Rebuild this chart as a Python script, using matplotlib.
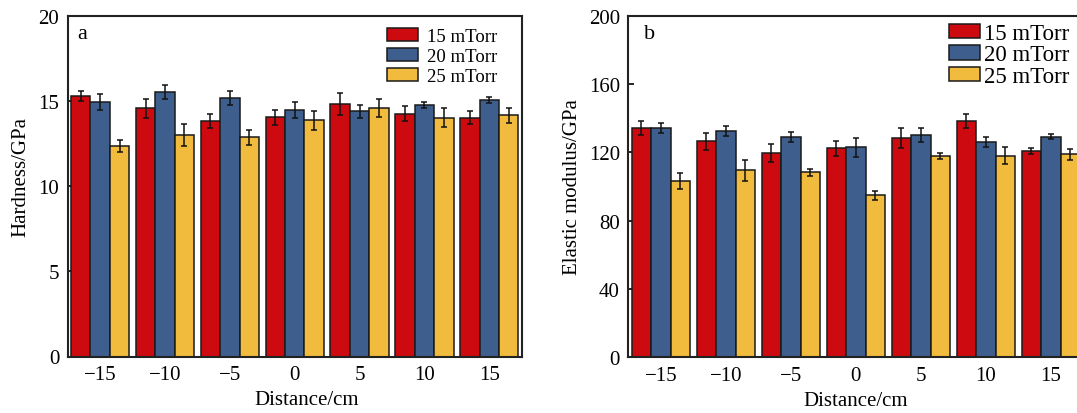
import matplotlib
matplotlib.use("Agg")
import matplotlib.pyplot as plt
import numpy as np

# ---- data ----
distance = [-15, -10, -5, 0, 5, 10, 15]
series_labels = ["15 mTorr", "20 mTorr", "25 mTorr"]

hard_15 = [15.3, 14.56, 13.83, 14.03, 14.81, 14.26, 14.01]
hard_15_err = [0.30, 0.55, 0.43, 0.43, 0.66, 0.42, 0.38]
hard_20 = [14.93, 15.53, 15.18, 14.46, 14.38, 14.77, 15.06]
hard_20_err = [0.47, 0.43, 0.41, 0.46, 0.36, 0.18, 0.16]
hard_25 = [12.36, 13.01, 12.86, 13.85, 14.59, 14.01, 14.16]
hard_25_err = [0.37, 0.65, 0.43, 0.57, 0.53, 0.55, 0.43]

mod_15 = [134.2, 126.4, 119.7, 122.3, 128.4, 138.5, 120.9]
mod_15_err = [4.1, 4.9, 5.4, 4.4, 5.6, 4.1, 1.8]
mod_20 = [134.2, 132.3, 128.9, 122.9, 130.3, 126.0, 129.1]
mod_20_err = [3.0, 2.9, 2.9, 5.7, 4.2, 3.1, 1.4]
mod_25 = [103.2, 109.4, 108.2, 94.9, 117.8, 118.0, 119.0]
mod_25_err = [4.8, 6.0, 2.2, 2.6, 1.9, 4.9, 3.2]

colors = ["#CC0A10", "#3E5F8E", "#F1BC3D"]

plt.rcParams['font.family'] = ['Liberation Serif', 'DejaVu Serif']

W, H = 1077, 414
fig = plt.figure(figsize=(W / 100, H / 100), dpi=100)

def px_axes(x0, x1, ytop, ybot):
    return fig.add_axes([x0 / W, (H - ybot) / H, (x1 - x0) / W, (ybot - ytop) / H])

axL = px_axes(67.7, 521.7, 16.7, 357.5)
axR = px_axes(628.3, 1083.3, 16.7, 358.3)

bw = 1.5
offsets = [-bw, 0, bw]
x = np.array(distance, dtype=float)

def draw(ax, vals, errs):
    handles = []
    for v, e, c, off, lab in zip(vals, errs, colors, offsets, series_labels):
        b = ax.bar(x + off, v, width=bw, color=c, edgecolor="#1a1a1a", linewidth=1.1,
                   label=lab, zorder=2)
        ax.errorbar(x + off, v, yerr=e, fmt="none", ecolor="#111111", elinewidth=1.1,
                    capsize=2.4, capthick=1.1, zorder=3)
        handles.append(b)
    ax.set_xlim(-17.5, 17.5)
    ax.set_xticks(distance)
    ax.set_xticklabels([("\u2212%d" % -d) if d < 0 else str(d) for d in distance])
    ax.tick_params(axis="x", length=0, pad=6, labelsize=15)
    ax.tick_params(axis="y", direction="in", length=4, width=1.2, labelsize=15, pad=6)
    for s in ax.spines.values():
        s.set_linewidth(1.5)
        s.set_color("#222222")
    return handles

hL = draw(axL, [hard_15, hard_20, hard_25], [hard_15_err, hard_20_err, hard_25_err])
axL.set_ylim(0, 20)
axL.set_yticks([0, 5, 10, 15, 20])
axL.set_ylabel("Hardness/GPa", fontsize=15)
axL.yaxis.set_label_coords(-0.083, 0.53)
axL.set_xlabel("Distance/cm", fontsize=15)
axL.xaxis.set_label_coords(0.527, -0.098)
axL.text(0.022, 0.975, "a", transform=axL.transAxes, fontsize=16, va="top", ha="left")
axL.legend(handles=hL, loc="upper left", bbox_to_anchor=(387 / W, (H - 28.5) / H),
           bbox_transform=fig.transFigure, frameon=False, fontsize=13.5,
           handlelength=1.65, handleheight=0.7, handletextpad=0.46,
           labelspacing=0.16, borderpad=0, borderaxespad=0)

hR = draw(axR, [mod_15, mod_20, mod_25], [mod_15_err, mod_20_err, mod_25_err])
axR.set_ylim(0, 200)
axR.set_yticks([0, 40, 80, 120, 160, 200])
axR.set_ylabel("Elastic modulus/GPa", fontsize=15)
axR.yaxis.set_label_coords(-0.102, 0.5)
axR.set_xlabel("Distance/cm", fontsize=15)
axR.xaxis.set_label_coords(0.5, -0.098)
axR.text(0.034, 0.975, "b", transform=axR.transAxes, fontsize=16, va="top", ha="left")
axR.legend(handles=hR, loc="upper left", bbox_to_anchor=(949 / W, (H - 24) / H),
           bbox_transform=fig.transFigure, frameon=False, fontsize=16.5,
           handlelength=1.35, handleheight=0.6, handletextpad=0.18,
           labelspacing=0.02, borderpad=0, borderaxespad=0)

fig.savefig("out.png", dpi=100)
